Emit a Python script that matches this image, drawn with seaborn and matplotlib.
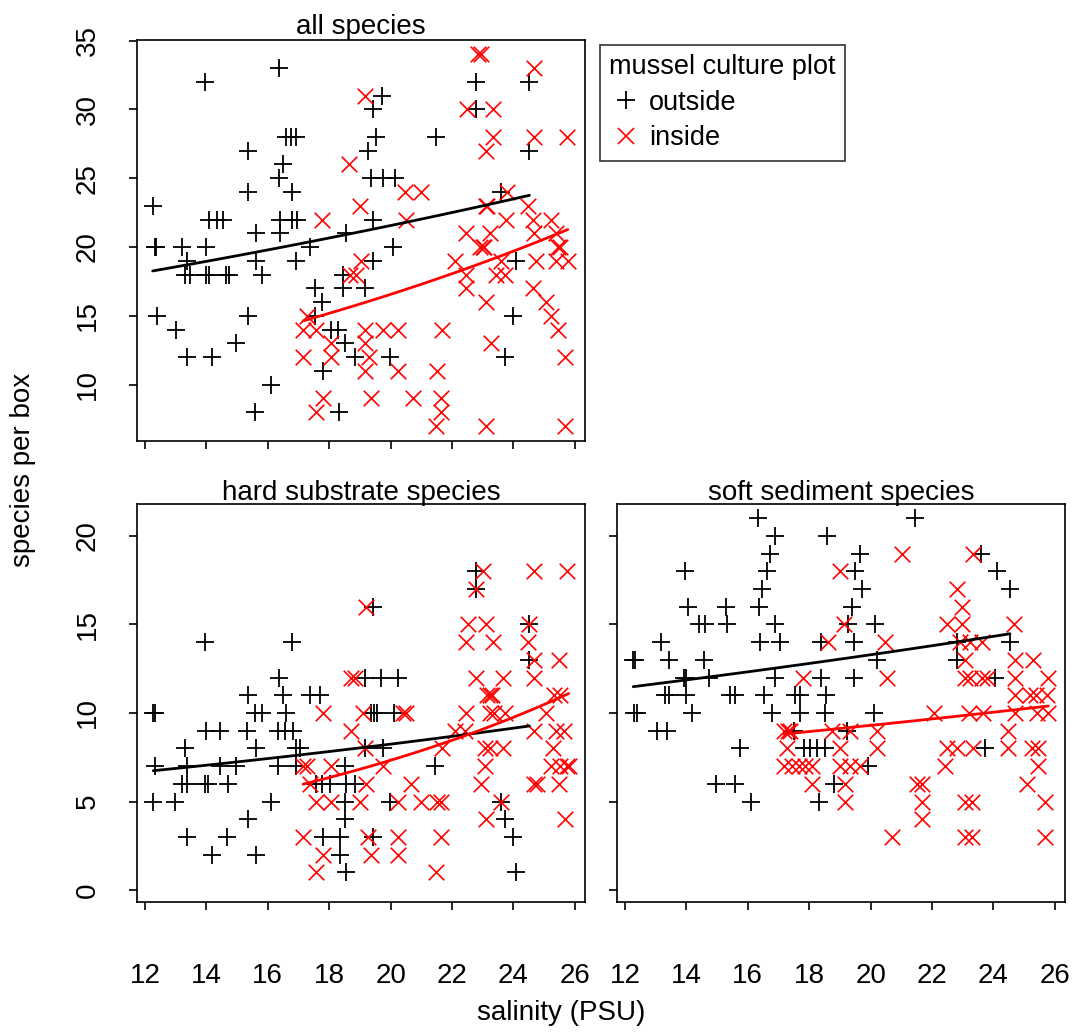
import numpy as np
import pandas as pd
import matplotlib
matplotlib.use("Agg")
import matplotlib.pyplot as plt
from matplotlib.lines import Line2D
import seaborn as sns

# ---------------- all species ----------------
all_out_sal = [12.25, 12.33, 12.36, 12.38, 13.00, 13.19, 13.30, 13.36, 13.36, 13.45, 13.95, 14.00, 14.00,
               14.10, 14.10, 14.17, 14.35, 14.55, 14.65, 14.75, 14.96, 15.36, 15.36, 15.36, 15.58,
               15.63, 15.63, 15.80, 16.12, 16.37, 16.37, 16.39, 16.40, 16.50, 16.60, 16.77, 16.79,
               16.80, 16.93, 16.93, 16.95, 17.37, 17.53, 17.53, 17.75, 17.80, 18.07, 18.29, 18.32,
               18.45, 18.45, 18.50, 18.56, 18.83, 19.15, 19.26, 19.37, 19.42, 19.42, 19.42, 19.53,
               19.72, 19.75, 19.97, 20.08, 20.13, 21.49, 22.79, 22.79, 23.60, 23.71, 23.98, 24.09,
               24.52, 24.52]
all_out_n = [23, 20, 20, 15, 14, 20, 18, 19, 12, 18, 32, 20, 18,
             18, 22, 12, 22, 22, 18, 18, 13, 27, 24, 15, 8,
             21, 19, 18, 10, 33, 25, 21, 22, 26, 28, 28, 24,
             22, 28, 19, 22, 20, 17, 15, 16, 11, 14, 14, 8,
             18, 17, 13, 21, 12, 17, 27, 25, 30, 22, 19, 28,
             31, 25, 12, 20, 25, 28, 32, 30, 24, 12, 15, 19,
             32, 27]
all_in_sal = [17.15, 17.15, 17.26, 17.58, 17.58, 17.78, 17.80, 18.07, 18.07, 18.67,
              18.65, 18.88, 19.00, 19.05, 19.15, 19.15, 19.15, 19.15, 19.30, 19.37,
              19.75, 20.24, 20.24, 20.46, 20.50, 20.73, 21.00, 21.49, 21.50, 21.65,
              21.65, 21.68, 22.11, 22.45, 22.45, 22.46, 22.48, 22.85, 22.90, 22.95,
              23.00, 23.05, 23.09, 23.09, 23.09, 23.11, 23.15, 23.22, 23.27, 23.33,
              23.33, 23.44, 23.60, 23.71, 23.76, 23.80, 24.47, 24.63, 24.63, 24.68,
              24.68, 24.68, 24.74, 25.06, 25.22, 25.23, 25.39, 25.39, 25.44, 25.45,
              25.50, 25.69, 25.69, 25.74, 25.77]
all_in_n = [14, 12, 15, 14, 8, 22, 9, 13, 12, 18,
            26, 18, 23, 19, 31, 14, 13, 11, 12, 9,
            14, 14, 11, 24, 22, 9, 24, 7, 11, 9,
            8, 14, 19, 18, 17, 21, 30, 34, 20, 34,
            20, 20, 27, 16, 7, 23, 23, 21, 13, 30,
            28, 18, 19, 18, 22, 24, 23, 22, 17, 33,
            28, 21, 19, 16, 15, 22, 21, 19, 14, 20,
            20, 12, 7, 28, 19]

# ---------------- hard substrate species ----------------
hard_out_sal = [13.95, 16.79, 16.37, 15.36, 16.50, 17.37, 17.69, 12.27, 12.32, 15.58, 15.80, 16.60,
                14.00, 14.44, 15.31, 16.34, 16.55, 16.82, 13.30, 15.61, 16.93, 17.04, 12.33, 13.36,
                14.44, 14.98, 16.34, 16.93, 18.50, 13.19, 13.36, 13.95, 14.06, 14.71, 17.58, 17.75,
                18.02, 18.56, 12.27, 12.98, 16.12, 18.50, 15.36, 18.50, 13.36, 14.66, 17.80, 18.34,
                14.17, 15.61, 18.34, 18.56, 22.79, 22.79, 19.42, 24.52, 24.52, 19.15, 19.70, 20.24,
                19.35, 19.45, 19.55, 20.10, 19.15, 19.75, 21.46, 18.83, 19.97, 23.60, 23.71, 19.42,
                24.00, 24.09]
hard_out_n = [14, 14, 12, 11, 11, 11, 11, 10, 10, 10, 10, 10,
              9, 9, 9, 9, 9, 9, 8, 8, 8, 8, 7, 7,
              7, 7, 7, 7, 7, 6, 6, 6, 6, 6, 6, 6,
              6, 6, 5, 5, 5, 5, 4, 4, 3, 3, 3, 3,
              2, 2, 2, 1, 18, 17, 16, 15, 13, 12, 12, 12,
              10, 10, 10, 10, 8, 8, 7, 6, 5, 5, 4, 3,
              3, 1]
hard_in_sal = [18.70, 18.85, 23.00, 22.79, 24.68, 25.73, 19.21, 22.51, 23.11, 24.52, 22.44, 23.33,
               24.47, 24.68, 25.47, 22.79, 23.65, 24.68, 23.15, 23.22, 23.30, 25.33, 25.50, 17.80,
               18.70, 17.15, 17.26, 18.07, 17.37, 17.58, 18.07, 17.15, 17.80, 17.56, 19.10, 20.40,
               20.50, 22.46, 23.22, 23.38, 23.71, 25.06, 22.08, 22.41, 24.68, 25.39, 25.66, 19.15,
               21.68, 23.06, 23.22, 23.65, 25.28, 19.75, 23.06, 25.23, 25.50, 25.74, 25.80, 19.21,
               20.67, 22.95, 24.68, 24.76, 25.47, 18.99, 20.24, 21.00, 21.51, 21.65, 23.60, 23.09,
               25.69, 19.26, 20.24, 21.65, 19.37, 20.24, 21.49]
hard_in_n = [12, 12, 18, 17, 18, 18, 16, 15, 15, 15, 14, 14,
             14, 13, 13, 12, 12, 12, 11, 11, 11, 11, 11, 10,
             9, 7, 7, 7, 6, 5, 5, 3, 2, 1, 10, 10,
             10, 10, 10, 10, 10, 10, 9, 9, 9, 9, 9, 8,
             8, 8, 8, 8, 8, 7, 7, 7, 7, 7, 7, 6,
             6, 6, 6, 6, 6, 5, 5, 5, 5, 5, 5, 4,
             4, 3, 3, 3, 2, 2, 1]

# ---------------- soft sediment species ----------------
soft_out_sal = [16.33, 16.90, 18.58, 16.74, 13.95, 16.63, 16.47, 14.06, 15.28, 16.36, 14.41, 14.60,
                15.33, 16.90, 13.16, 16.41, 17.06, 18.40, 12.27, 12.33, 13.43, 14.57, 13.93, 14.00,
                14.73, 16.90, 18.40, 13.32, 13.43, 13.99, 15.41, 15.57, 16.54, 17.55, 17.71, 18.55,
                12.31, 12.38, 14.17, 16.79, 17.71, 18.50, 13.05, 13.38, 17.50, 15.76, 17.82, 18.04,
                18.25, 18.50, 14.95, 15.60, 16.12, 18.31, 21.45, 19.67, 23.60, 19.50, 24.11, 19.72,
                24.54, 19.39, 19.28, 20.15, 19.45, 22.83, 24.54, 20.20, 22.83, 19.45, 24.05, 20.10,
                19.23, 23.71, 19.93, 18.80]
soft_out_n = [21, 20, 20, 19, 18, 18, 17, 16, 16, 16, 15, 15,
              15, 15, 14, 14, 14, 14, 13, 13, 13, 13, 12, 12,
              12, 12, 12, 11, 11, 11, 11, 11, 11, 11, 11, 11,
              10, 10, 10, 10, 10, 10, 9, 9, 9, 8, 8, 8,
              8, 8, 6, 6, 5, 5, 21, 19, 19, 18, 18, 17,
              17, 16, 15, 15, 14, 14, 14, 13, 13, 12, 12, 10,
              9, 8, 7, 6]
soft_in_sal = [18.62, 17.79, 21.02, 23.32, 19.01, 22.81, 22.97, 19.12, 22.48, 22.97, 24.68, 20.46,
               22.92, 23.24, 23.62, 23.06, 24.71, 25.29, 20.54, 23.08, 23.24, 23.62, 23.78, 24.71,
               25.79, 24.71, 25.20, 25.40, 25.75, 17.17, 17.30, 17.39, 17.28, 17.17, 17.44, 17.66,
               17.88, 18.09, 18.09, 22.05, 23.19, 23.67, 24.71, 25.42, 25.79, 18.74, 19.34, 20.20,
               24.47, 19.01, 20.20, 22.48, 22.81, 23.35, 24.47, 25.25, 25.46, 19.01, 19.34, 19.67,
               22.43, 25.46, 19.18, 21.51, 21.67, 25.08, 19.18, 21.67, 23.08, 23.30, 25.68, 21.67,
               20.69, 23.08, 23.30, 25.68]
soft_in_n = [14, 12, 19, 19, 18, 17, 16, 15, 15, 15, 15, 14,
             14, 14, 14, 13, 13, 13, 12, 12, 12, 12, 12, 12,
             12, 11, 11, 11, 11, 9, 9, 9, 8, 7, 7, 7,
             7, 7, 6, 10, 10, 10, 10, 10, 10, 9, 9, 9,
             9, 8, 8, 8, 8, 8, 8, 8, 8, 7, 7, 7,
             7, 7, 6, 6, 6, 6, 5, 5, 5, 5, 5, 4,
             3, 3, 3, 3]

# Poisson GLM trend coefficients, log(species) = intercept + slope * salinity
all_out_coef = [2.642, 0.02145]
all_in_coef = [1.939, 0.0434]
hard_out_coef = [1.589, 0.0260]
hard_in_coef = [0.562, 0.0715]
soft_out_coef = [2.210, 0.01884]
soft_in_coef = [1.846, 0.0192]

sns.set_theme(style="white")
plt.rcParams['font.family'] = ['Liberation Sans', 'DejaVu Sans']
plt.rcParams.update({
    "text.color": "black",
    "axes.labelcolor": "black",
    "axes.titlecolor": "black",
    "xtick.color": "black",
    "ytick.color": "black",
    "legend.labelcolor": "black",
})

FS = 20
fig = plt.figure(figsize=(10.73, 10.36), dpi=100)
ax_all = fig.add_axes([0.1274, 0.5746, 0.4178, 0.3868])
ax_hard = fig.add_axes([0.1274, 0.1296, 0.4178, 0.3839])
ax_soft = fig.add_axes([0.5747, 0.1296, 0.4178, 0.3839])


def draw_panel(ax, out_sal, out_n, in_sal, in_n, out_coef, in_coef, title):
    out_df = pd.DataFrame({"salinity": out_sal, "species": out_n})
    in_df = pd.DataFrame({"salinity": in_sal, "species": in_n})
    sns.scatterplot(data=out_df, x="salinity", y="species", marker="+", color="black",
                    s=175, linewidth=1.3, ax=ax, zorder=3)
    sns.scatterplot(data=in_df, x="salinity", y="species", marker="x", color="red",
                    s=125, linewidth=1.2, ax=ax, zorder=3)
    for df, coef, col in ((out_df, out_coef, "black"), (in_df, in_coef, "red")):
        xs = np.linspace(df["salinity"].min(), df["salinity"].max(), 120)
        ys = np.exp(coef[0] + coef[1] * xs)
        sns.lineplot(x=xs, y=ys, color=col, linewidth=2.0, ax=ax, zorder=4)
    ax.set_title(title, fontsize=FS, pad=3, color="black")
    ax.set_xlabel("")
    ax.set_ylabel("")
    ax.set_xlim(11.73, 26.33)
    ax.set_xticks(range(12, 27, 2))
    for sp in ax.spines.values():
        sp.set_visible(True)
        sp.set_color("black")
        sp.set_linewidth(1.2)
    ax.tick_params(axis="both", direction="out", length=6, width=1.2, color="black",
                   labelcolor="black", labelsize=FS, bottom=True, left=True)
    ax.tick_params(axis="x", pad=38)
    ax.tick_params(axis="y", pad=20, labelrotation=90)


draw_panel(ax_all, all_out_sal, all_out_n, all_in_sal, all_in_n,
           all_out_coef, all_in_coef, "all species")
draw_panel(ax_hard, hard_out_sal, hard_out_n, hard_in_sal, hard_in_n,
           hard_out_coef, hard_in_coef, "hard substrate species")
draw_panel(ax_soft, soft_out_sal, soft_out_n, soft_in_sal, soft_in_n,
           soft_out_coef, soft_in_coef, "soft sediment species")

ax_all.set_ylim(5.92, 35.05)
ax_all.set_yticks([10, 15, 20, 25, 30, 35])
ax_all.tick_params(axis="x", labelbottom=False)

for ax in (ax_hard, ax_soft):
    ax.set_ylim(-0.66, 21.8)
    ax.set_yticks([0, 5, 10, 15, 20])
ax_soft.tick_params(axis="y", labelleft=False)

for ax in (ax_all, ax_hard, ax_soft):
    for lab in ax.get_yticklabels():
        lab.set_va("center")

fig.text(0.021, 0.546, "species per box", rotation=90, ha="center", va="center",
         fontsize=FS, color="black")
fig.text(0.523, 0.022, "salinity (PSU)", ha="center", va="center", fontsize=FS, color="black")

handles = [Line2D([], [], marker="+", color="black", linestyle="none", markersize=13, markeredgewidth=1.3),
           Line2D([], [], marker="x", color="red", linestyle="none", markersize=11, markeredgewidth=1.2)]
leg = fig.legend(handles, ["outside", "inside"], title="mussel culture plot",
                 loc="upper left", bbox_to_anchor=(600 / 1073, 1 - 45 / 1036), borderaxespad=0,
                 fontsize=19.5, title_fontsize=19.5, frameon=True, fancybox=False,
                 edgecolor="black", borderpad=0.35, handletextpad=0.25, labelspacing=0.35,
                 handlelength=1.2, alignment="left")
leg.get_frame().set_linewidth(1.2)
leg.get_title().set_color("black")

fig.savefig("out.png", dpi=100)
